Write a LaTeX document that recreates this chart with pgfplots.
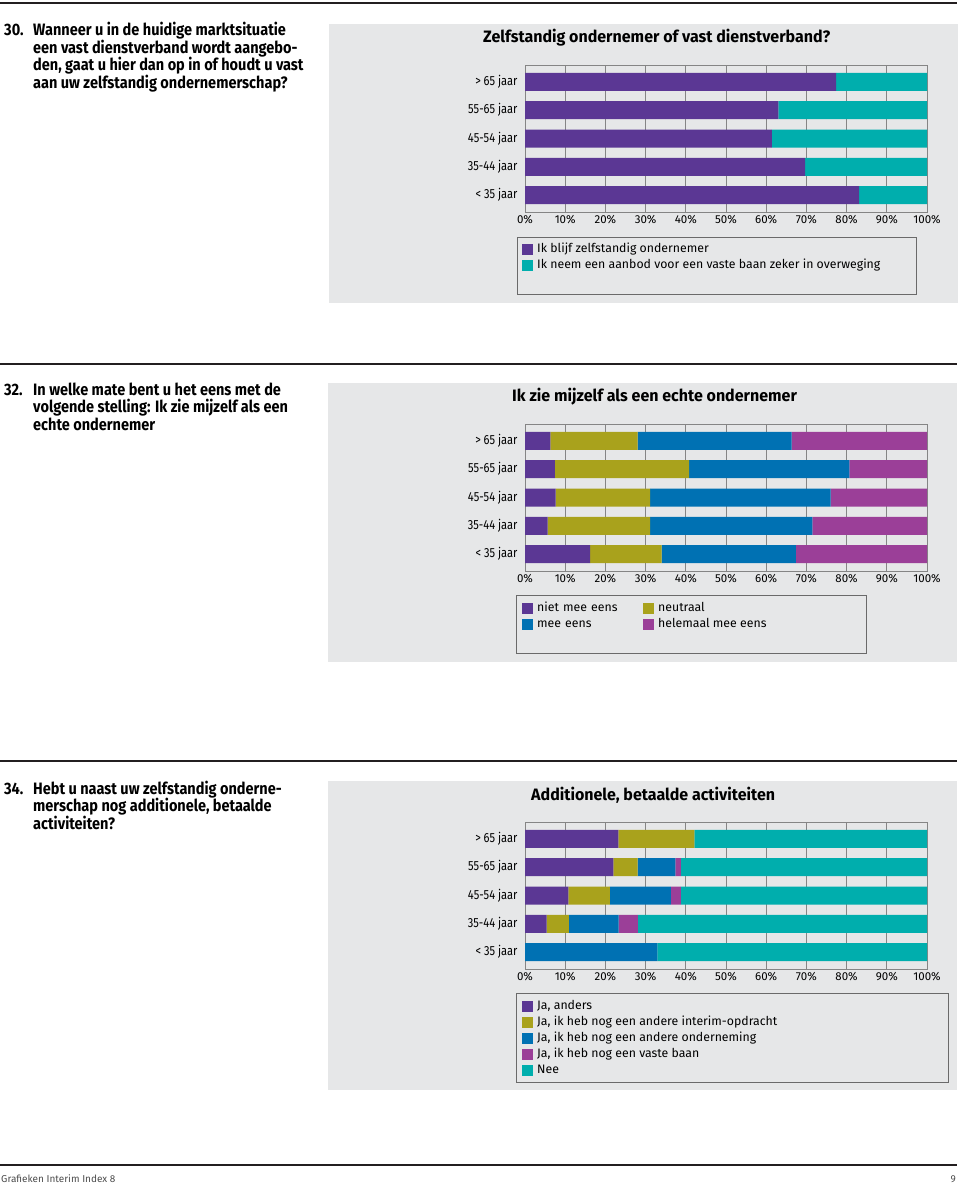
\documentclass[border=0pt]{standalone}
\usepackage{fontspec}
\setmainfont{Fira Sans}
\newfontfamily\qfont[FakeStretch=0.88]{Fira Sans}
\newfontfamily\tfont[FakeStretch=0.97]{Fira Sans}
\newfontfamily\yfont[FakeStretch=0.84]{Fira Sans}
\usepackage{pgfplots}
\pgfplotsset{compat=1.18}
\definecolor{cPur}{HTML}{5B3794}
\definecolor{cTeal}{HTML}{00AEAD}
\definecolor{cOli}{HTML}{A9A21C}
\definecolor{cBlu}{HTML}{0071B3}
\definecolor{cMag}{HTML}{9B3F98}
\definecolor{cBg}{HTML}{E6E7E8}
\definecolor{cGrid}{HTML}{858585}
\definecolor{cRule}{HTML}{231F20}

\pgfplotstableread{
y  a     b
1  83.1  16.9
2  69.7  30.3
3  61.4  38.6
4  63.0  37.0
5  77.4  22.6
}\tabA
\pgfplotstableread{
y  a     b     c     d
1  16.2  17.8  33.4  32.6
2  5.6   25.5  40.4  28.5
3  7.6   23.5  44.9  24.0
4  7.4   33.4  39.9  19.3
5  6.3   21.7  38.3  33.7
}\tabB
\pgfplotstableread{
y  a     b     c     d    e
1  0     0     32.9  0    67.1
2  5.4   5.5   12.4  4.8  71.9
3  10.8  10.3  15.2  2.5  61.2
4  22.0  6.0   9.4   1.4  61.2
5  23.2  18.9  0     0    57.9
}\tabC

\pgfplotsset{
  panel/.style={
    xbar stacked, scale only axis, width=402pt, height=147pt,
    anchor=south west,
    xmin=0, xmax=100, ymin=0.4, ymax=5.6,
    bar width=18pt,
    xtick={0,10,...,100},
    xticklabel={\pgfmathprintnumber{\tick}\%},
    ytick={1,...,5},
    yticklabels={< 35 jaar,35-44 jaar,45-54 jaar,55-65 jaar,> 65 jaar},
    major tick length=0pt,
    xmajorgrids, major grid style={cGrid, line width=0.7pt},
    axis line style={cGrid, line width=0.9pt},
    /pgf/number format/assume math mode=true,
    yticklabel style={font=\yfont\fontsize{13.2}{15}\selectfont, text=black, xshift=-4pt},
    xticklabel style={font=\fontsize{11.5}{13}\selectfont, text=black},
    every axis plot/.append style={draw=none},
    legend cell align=left,
    legend image code/.code={\fill[##1] (0pt,-5.5pt) rectangle (11pt,5.5pt);},
    legend style={draw=none, fill=none, anchor=north west, inner sep=0pt,
      font=\fontsize{12.3}{14}\selectfont,
      nodes={inner sep=0pt, text height=9pt, text depth=3pt},
      row sep=4pt,
      /tikz/every odd column/.style={column sep=4pt}},
  }
}

\begin{document}
\begin{tikzpicture}
\useasboundingbox (0pt,0pt) rectangle (960pt,-1185pt);
% rules
\fill[cRule] (0pt,-2pt) rectangle (957pt,-4pt);
\fill[cRule] (0pt,-363pt) rectangle (957pt,-365pt);
\fill[cRule] (0pt,-760pt) rectangle (957pt,-762pt);
\fill[cRule] (0pt,-1164pt) rectangle (957pt,-1166pt);
% panels
\fill[cBg] (329pt,-24pt) rectangle (958pt,-303pt);
\fill[cBg] (328pt,-383pt) rectangle (957pt,-662pt);
\fill[cBg] (328pt,-781pt) rectangle (957pt,-1090pt);
% legend boxes
\draw[cGrid!80!black, line width=0.8pt] (517pt,-237pt) rectangle (916pt,-294pt);
\draw[cGrid!80!black, line width=0.8pt] (516pt,-595pt) rectangle (866pt,-653pt);
\draw[cGrid!80!black, line width=0.8pt] (516pt,-993pt) rectangle (948pt,-1082pt);

% question texts
\begin{scope}[every node/.style={anchor=base west, inner sep=0pt, font=\qfont\bfseries\fontsize{16.5}{18}\selectfont}]
\node at (4pt,-36pt) {30.};
\node at (33pt,-36pt) {Wanneer u in de huidige marktsituatie};
\node at (33pt,-53.5pt) {een vast dienstverband wordt aangebo-};
\node at (33pt,-71pt) {den, gaat u hier dan op in of houdt u vast};
\node at (33pt,-88.5pt) {aan uw zelfstandig ondernemerschap?};
\node at (4pt,-395pt) {32.};
\node at (33pt,-395pt) {In welke mate bent u het eens met de};
\node at (33pt,-412.5pt) {volgende stelling: Ik zie mijzelf als een};
\node at (33pt,-430pt) {echte ondernemer};
\node at (4pt,-794pt) {34.};
\node at (33pt,-794pt) {Hebt u naast uw zelfstandig onderne-};
\node at (33pt,-811.5pt) {merschap nog additionele, betaalde};
\node at (33pt,-829pt) {activiteiten?};
\end{scope}
% chart titles
\begin{scope}[every node/.style={anchor=base west, inner sep=0pt, font=\tfont\bfseries\fontsize{16.5}{18}\selectfont}]
\node at (483pt,-43pt) {Zelfstandig ondernemer of vast dienstverband?};
\node at (512pt,-401pt) {Ik zie mijzelf als een echte ondernemer};
\node at (531pt,-800pt) {Additionele, betaalde activiteiten};
\end{scope}
% footer
\node[anchor=base west, inner sep=0pt, font=\fontsize{10}{12}\selectfont\color{black!70}] at (1pt,-1182pt) {Grafieken Interim Index 8};
\node[anchor=base east, inner sep=0pt, font=\fontsize{10}{12}\selectfont\color{black!70}] at (956pt,-1182pt) {9};

% panel 1
\begin{axis}[panel, at={(525pt,-212pt)},
  legend style={at={(axis description cs:-0.0075,-0.21)}}]
\addplot[fill=cPur] table[x=a,y=y] {\tabA};
\addplot[fill=cTeal] table[x=b,y=y] {\tabA};
\legend{Ik blijf zelfstandig ondernemer, Ik neem een aanbod voor een vaste baan zeker in overweging}
\end{axis}

% panel 2
\begin{axis}[panel, at={(525pt,-571pt)}, legend columns=2,
  legend style={at={(axis description cs:-0.0075,-0.21)},
    /tikz/column 2/.style={text width=106pt}}]
\addplot[fill=cPur] table[x=a,y=y] {\tabB};
\addplot[fill=cOli] table[x=b,y=y] {\tabB};
\addplot[fill=cBlu] table[x=c,y=y] {\tabB};
\addplot[fill=cMag] table[x=d,y=y] {\tabB};
\legend{niet mee eens, neutraal, mee eens, helemaal mee eens}
\end{axis}

% panel 3
\begin{axis}[panel, at={(525pt,-969pt)},
  legend style={at={(axis description cs:-0.0075,-0.21)}}]
\addplot[fill=cPur] table[x=a,y=y] {\tabC};
\addplot[fill=cOli] table[x=b,y=y] {\tabC};
\addplot[fill=cBlu] table[x=c,y=y] {\tabC};
\addplot[fill=cMag] table[x=d,y=y] {\tabC};
\addplot[fill=cTeal] table[x=e,y=y] {\tabC};
\legend{{Ja, anders}, {Ja, ik heb nog een andere interim-opdracht}, {Ja, ik heb nog een andere onderneming}, {Ja, ik heb nog een vaste baan}, Nee}
\end{axis}
\end{tikzpicture}
\end{document}
